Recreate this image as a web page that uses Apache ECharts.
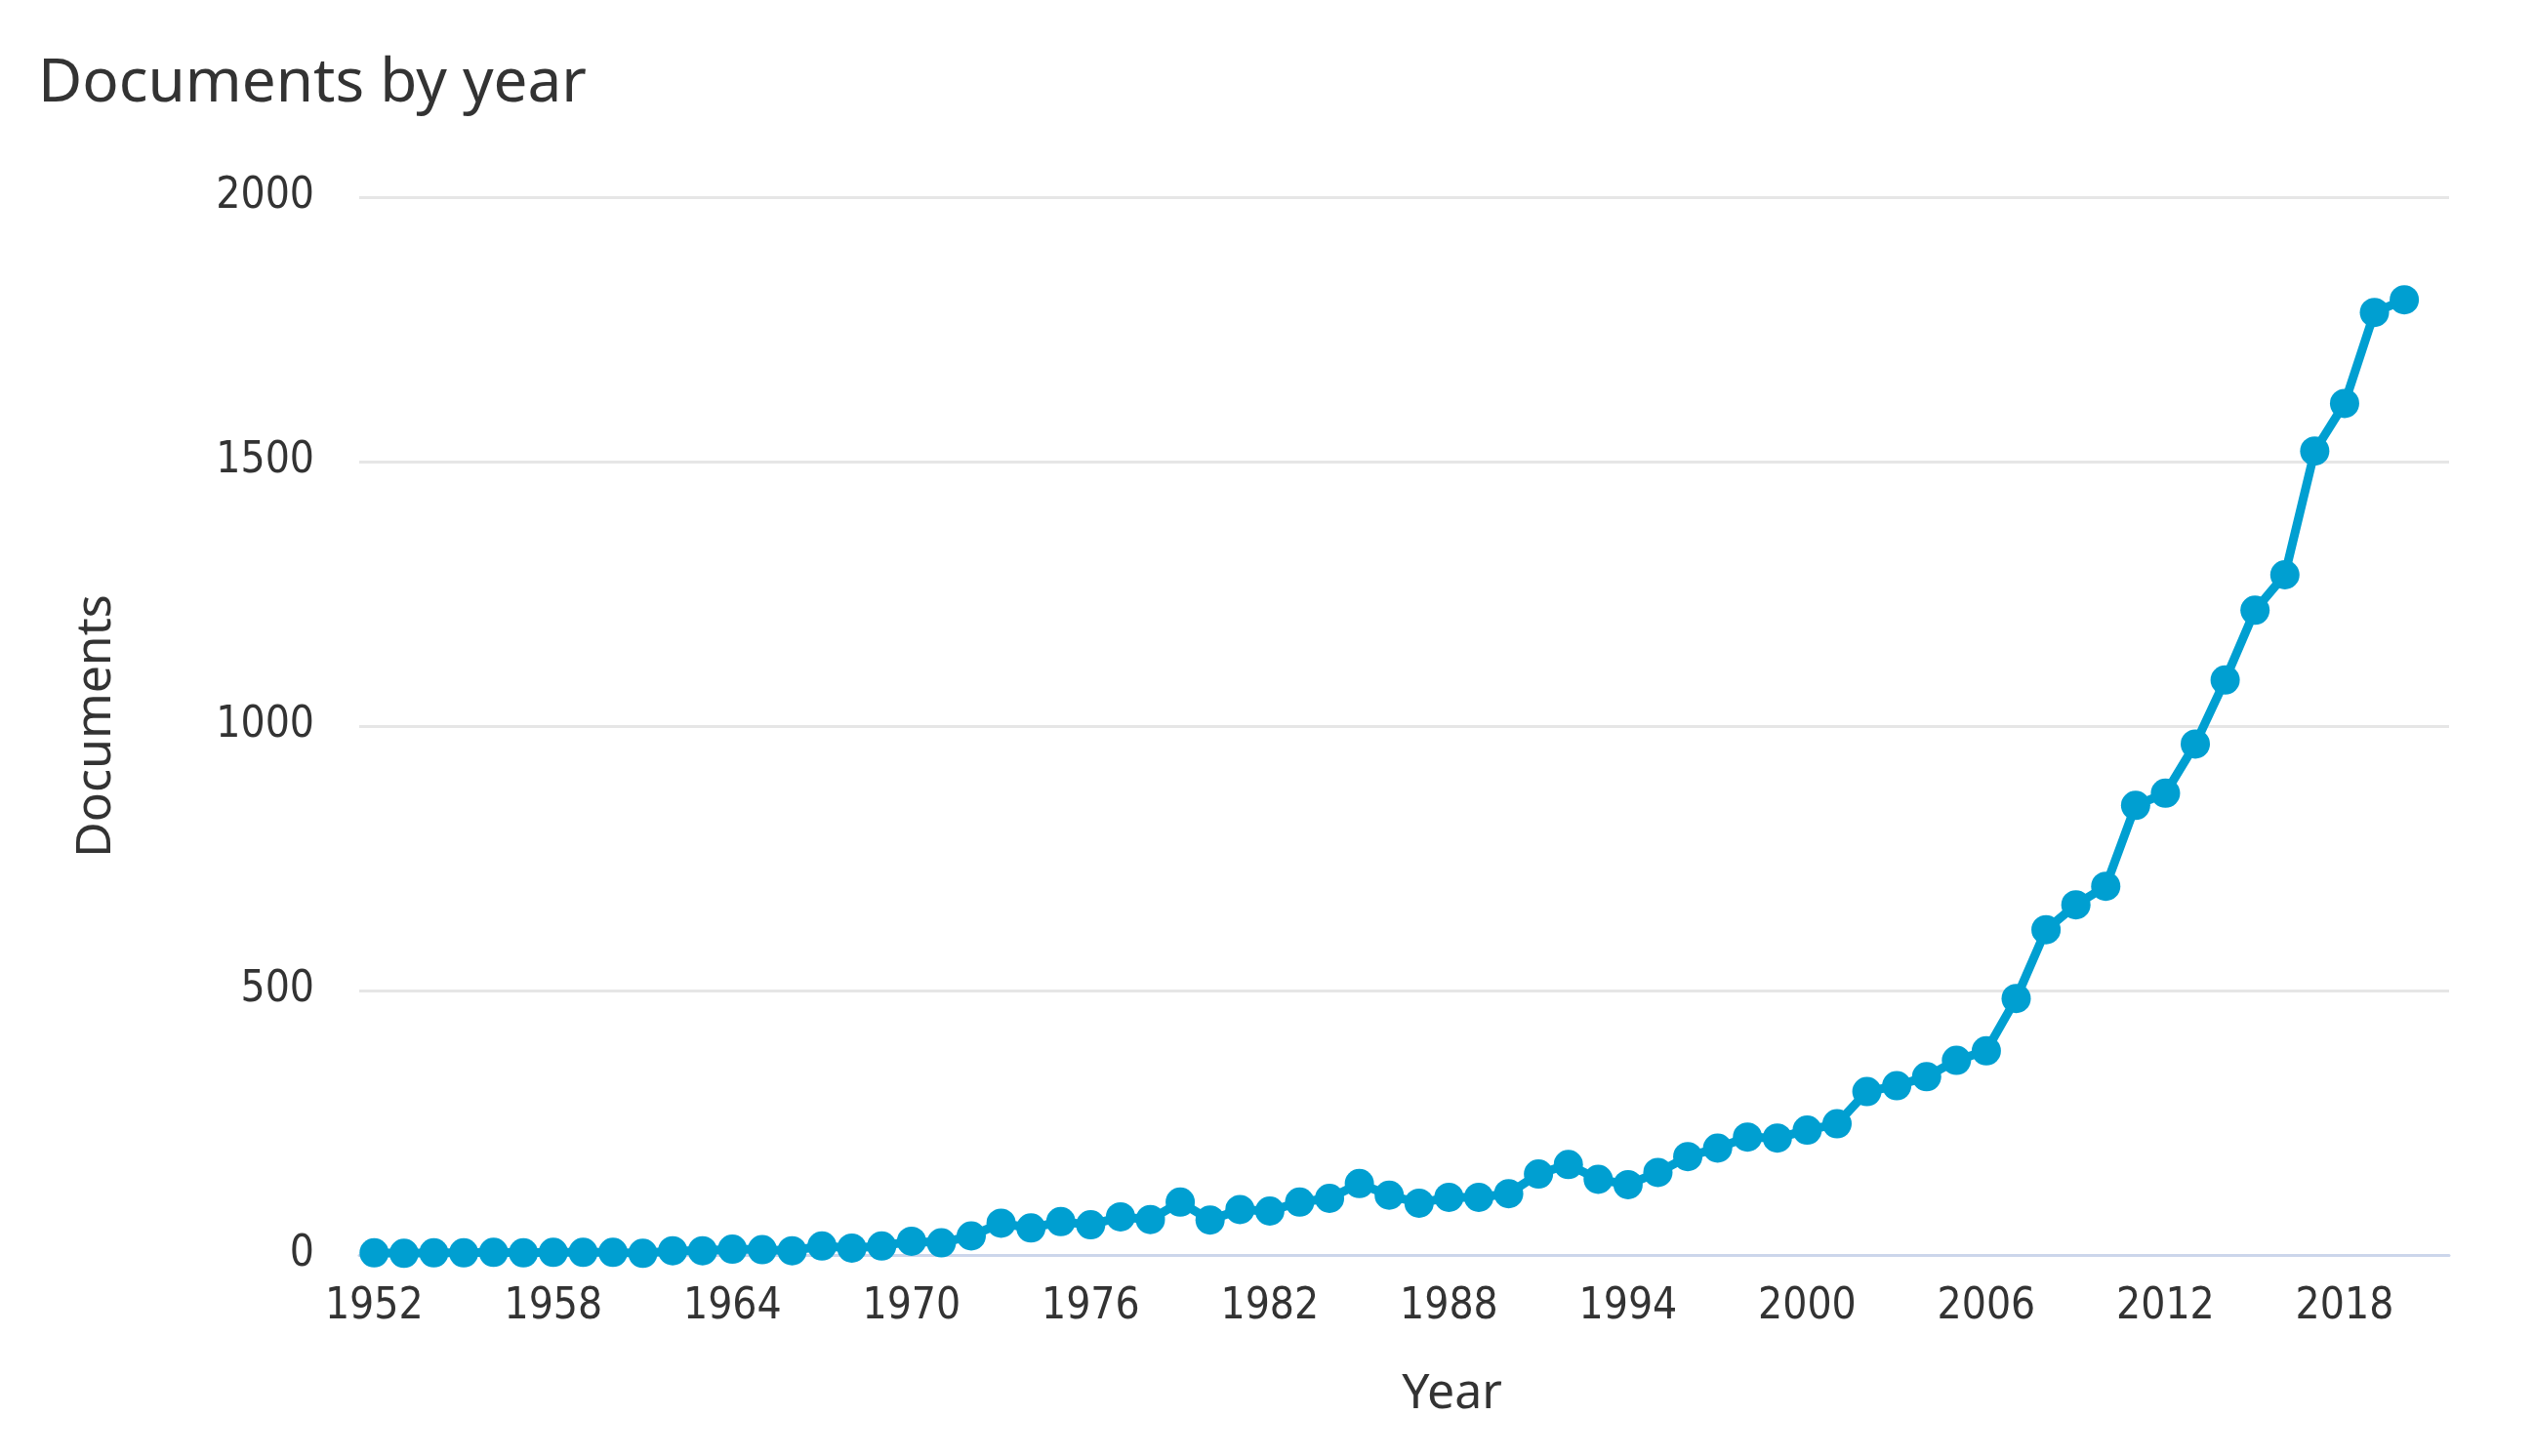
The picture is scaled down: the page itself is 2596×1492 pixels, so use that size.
<!DOCTYPE html>
<html lang="en">
<head>
    <meta charset="UTF-8">
    <title>Documents by year</title>
    <script src="https://cdn.jsdelivr.net/npm/echarts@6/dist/echarts.min.js"></script>
    <style>
        html, body { margin: 0; padding: 0; background: #fff; }
    </style>
</head>
<body>
<div id="main" style="width:2596px;height:1492px"></div>
<script type="text/javascript">

    // years shown on the axis
    var years = [
        1952, 1953, 1954, 1955, 1956, 1957, 1958, 1959, 1960, 1961,
        1962, 1963, 1964, 1965, 1966, 1967, 1968, 1969, 1970, 1971,
        1972, 1973, 1974, 1975, 1976, 1977, 1978, 1979, 1980, 1981,
        1982, 1983, 1984, 1985, 1986, 1987, 1988, 1989, 1990, 1991,
        1992, 1993, 1994, 1995, 1996, 1997, 1998, 1999, 2000, 2001,
        2002, 2003, 2004, 2005, 2006, 2007, 2008, 2009, 2010, 2011,
        2012, 2013, 2014, 2015, 2016, 2017, 2018, 2019, 2020
    ];

    // documents per year
    var documents = [
        4, 3, 4, 4, 5, 4, 5, 5, 5, 3,
        8, 8, 11, 10, 8, 17, 13, 17, 26, 23,
        36, 60, 51, 63, 57, 72, 67, 100, 66, 86,
        83, 100, 107, 135, 113, 98, 109, 109, 116, 153,
        171, 143, 133, 156, 186, 202, 223, 221, 236, 248,
        309, 320, 337, 368, 386, 485, 615, 662, 697, 850,
        873, 966, 1087, 1219, 1286, 1520, 1610, 1782, 1806
    ];

    var xTickLabels = [1952, 1958, 1964, 1970, 1976, 1982, 1988, 1994, 2000, 2006, 2012, 2018];
    var yTicks = [0, 500, 1000, 1500, 2000];

    var tickFont = '"Liberation Sans Narrow", "DejaVu Sans Condensed", sans-serif';
    var textFont = '"Noto Sans", "Open Sans", sans-serif';

    window.onload = function () {
        var chartDom = document.getElementById('main');
        var myChart = echarts.init(chartDom);

        var points = [];
        for (var i = 0; i < years.length; i++) {
            points.push([years[i], documents[i]]);
        }

        var option = {
            animation: false,
            backgroundColor: '#ffffff',
            title: {
                text: 'Documents by year',
                left: 34,
                top: 50,
                textStyle: {
                    color: '#333333',
                    fontSize: 62,
                    fontWeight: 'normal',
                    fontFamily: textFont
                }
            },
            grid: {
                left: 368,
                right: 87,
                top: 202,
                bottom: 206
            },
            xAxis: {
                type: 'value',
                min: 1951.5,
                max: 2021.5,
                name: 'Year',
                nameLocation: 'middle',
                nameGap: 118,
                nameTextStyle: {
                    color: '#333333',
                    fontSize: 50,
                    fontFamily: textFont,
                    padding: [0, 0, 0, 98]
                },
                axisLine: {
                    show: true,
                    lineStyle: { color: '#ccd6eb', width: 3 }
                },
                axisTick: { show: false },
                splitLine: { show: false },
                axisLabel: {
                    customValues: xTickLabels,
                    margin: 32,
                    color: '#333333',
                    fontSize: 44,
                    fontFamily: tickFont,
                    formatter: function (v) { return String(v); }
                }
            },
            yAxis: {
                type: 'value',
                min: yTicks[0],
                max: yTicks[yTicks.length - 1],
                interval: 500,
                name: 'Documents',
                nameLocation: 'middle',
                nameGap: 244,
                nameTextStyle: {
                    color: '#333333',
                    fontSize: 50,
                    fontFamily: textFont
                },
                axisLine: { show: false },
                axisTick: { show: false },
                splitLine: {
                    lineStyle: { color: '#e6e6e6', width: 3 }
                },
                axisLabel: {
                    margin: 46,
                    color: '#333333',
                    fontSize: 44,
                    fontFamily: tickFont,
                    formatter: function (v) { return String(v); }
                }
            },
            series: [
                {
                    type: 'line',
                    data: points,
                    symbol: 'circle',
                    symbolSize: 30,
                    lineStyle: { color: '#009fd1', width: 9 },
                    itemStyle: { color: '#009fd1' }
                }
            ]
        };

        myChart.setOption(option, true);
    }

</script>

</body>
</html>
